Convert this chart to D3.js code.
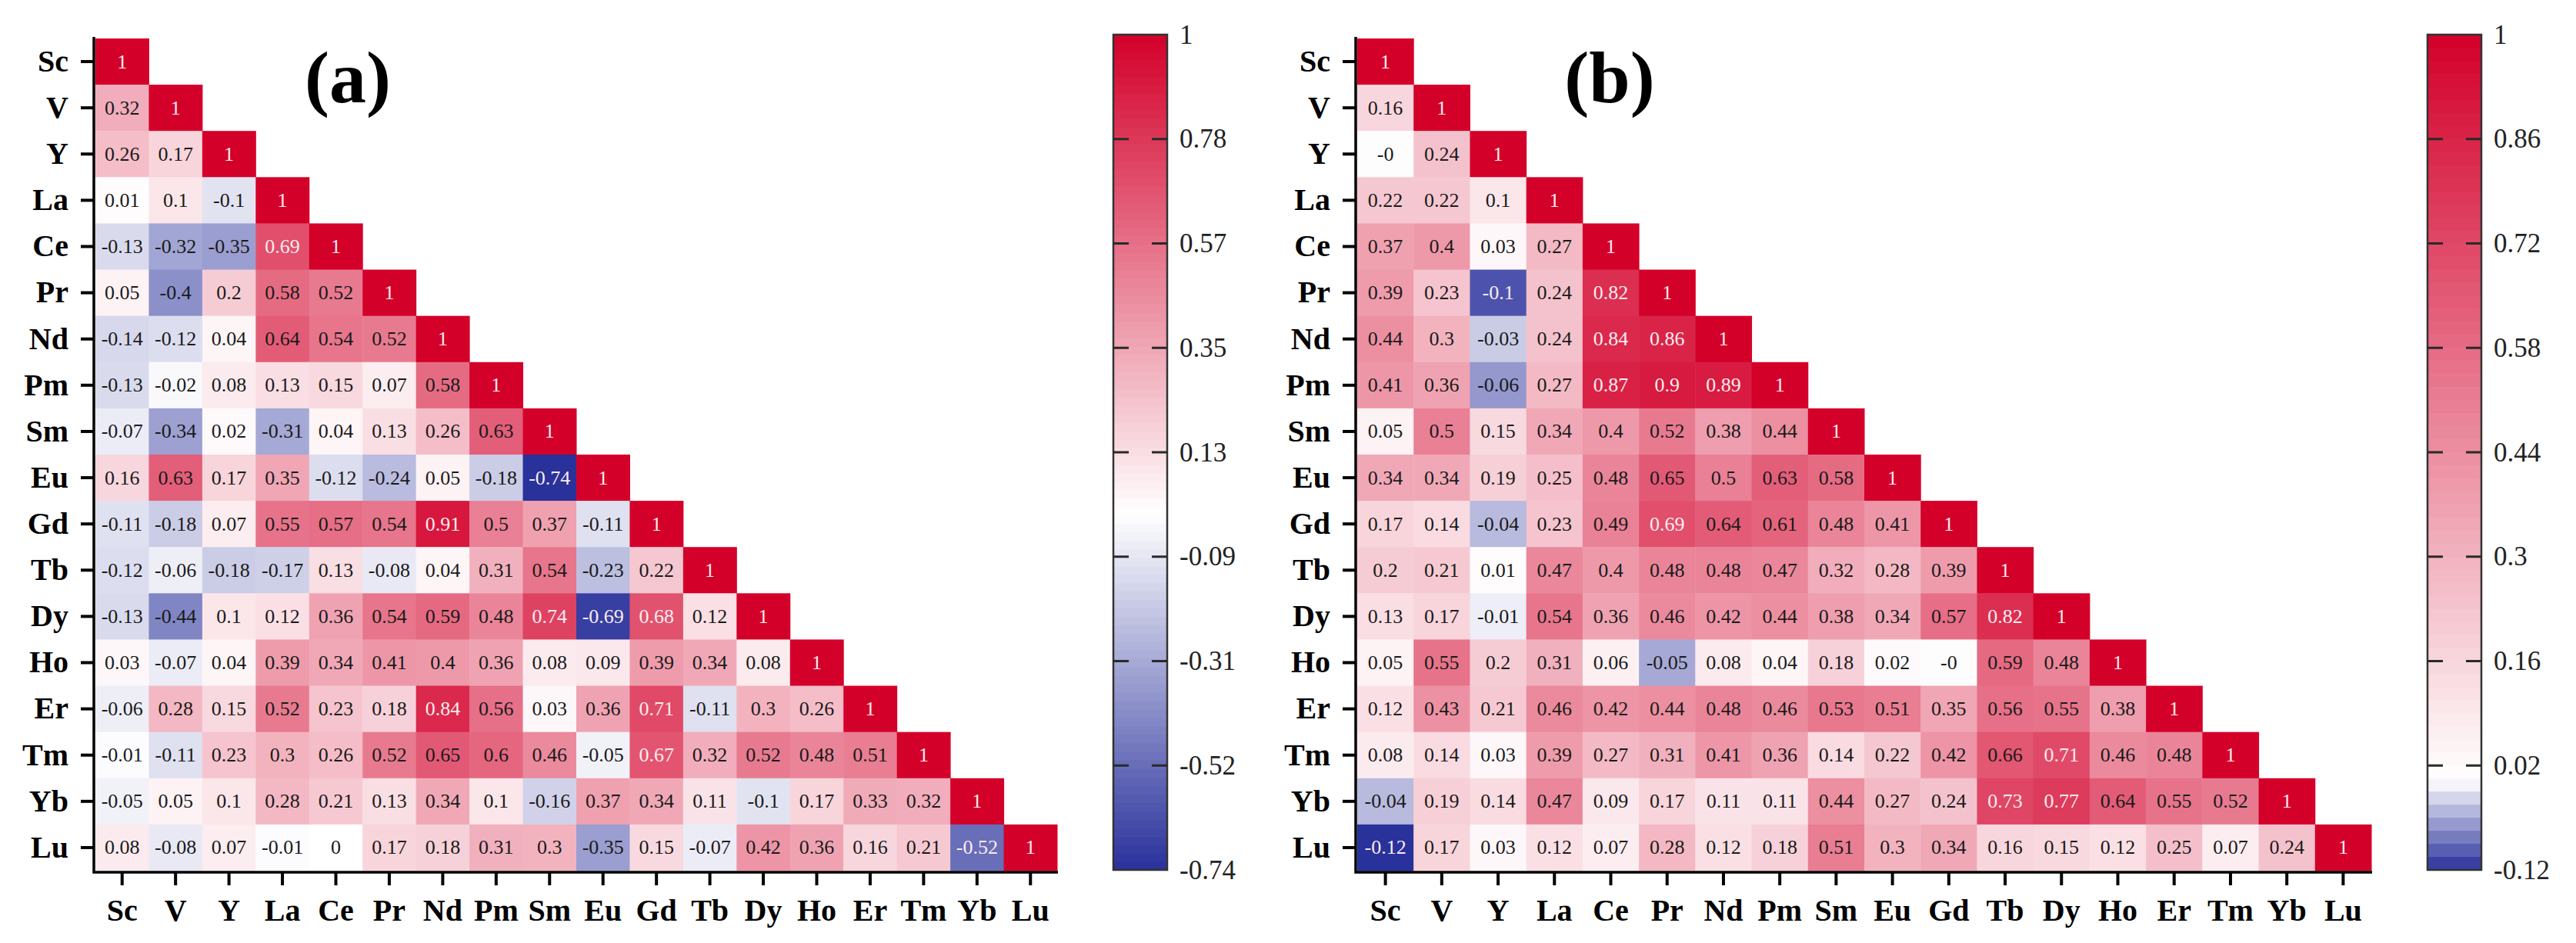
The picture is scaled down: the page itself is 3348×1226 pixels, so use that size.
<!DOCTYPE html>
<html>
<head>
<meta charset="utf-8">
<script src="https://cdn.jsdelivr.net/npm/d3@7"></script>
<style>
  body { margin: 0; background: #fff; }
  svg { display: block; }
</style>
</head>
<body>
<script>
// element names (rows and columns of both matrices)
const elements = ["Sc","V","Y","La","Ce","Pr","Nd","Pm","Sm","Eu","Gd","Tb","Dy","Ho","Er","Tm","Yb","Lu"];

// lower triangle of correlation matrix (a)
const corrA = [
  [1],
  [0.32, 1],
  [0.26, 0.17, 1],
  [0.01, 0.1, -0.1, 1],
  [-0.13, -0.32, -0.35, 0.69, 1],
  [0.05, -0.4, 0.2, 0.58, 0.52, 1],
  [-0.14, -0.12, 0.04, 0.64, 0.54, 0.52, 1],
  [-0.13, -0.02, 0.08, 0.13, 0.15, 0.07, 0.58, 1],
  [-0.07, -0.34, 0.02, -0.31, 0.04, 0.13, 0.26, 0.63, 1],
  [0.16, 0.63, 0.17, 0.35, -0.12, -0.24, 0.05, -0.18, -0.74, 1],
  [-0.11, -0.18, 0.07, 0.55, 0.57, 0.54, 0.91, 0.5, 0.37, -0.11, 1],
  [-0.12, -0.06, -0.18, -0.17, 0.13, -0.08, 0.04, 0.31, 0.54, -0.23, 0.22, 1],
  [-0.13, -0.44, 0.1, 0.12, 0.36, 0.54, 0.59, 0.48, 0.74, -0.69, 0.68, 0.12, 1],
  [0.03, -0.07, 0.04, 0.39, 0.34, 0.41, 0.4, 0.36, 0.08, 0.09, 0.39, 0.34, 0.08, 1],
  [-0.06, 0.28, 0.15, 0.52, 0.23, 0.18, 0.84, 0.56, 0.03, 0.36, 0.71, -0.11, 0.3, 0.26, 1],
  [-0.01, -0.11, 0.23, 0.3, 0.26, 0.52, 0.65, 0.6, 0.46, -0.05, 0.67, 0.32, 0.52, 0.48, 0.51, 1],
  [-0.05, 0.05, 0.1, 0.28, 0.21, 0.13, 0.34, 0.1, -0.16, 0.37, 0.34, 0.11, -0.1, 0.17, 0.33, 0.32, 1],
  [0.08, -0.08, 0.07, -0.01, 0, 0.17, 0.18, 0.31, 0.3, -0.35, 0.15, -0.07, 0.42, 0.36, 0.16, 0.21, -0.52, 1]
];

// lower triangle of correlation matrix (b)  (-0.001 prints as "-0")
const corrB = [
  [1],
  [0.16, 1],
  [-0.001, 0.24, 1],
  [0.22, 0.22, 0.1, 1],
  [0.37, 0.4, 0.03, 0.27, 1],
  [0.39, 0.23, -0.1, 0.24, 0.82, 1],
  [0.44, 0.3, -0.03, 0.24, 0.84, 0.86, 1],
  [0.41, 0.36, -0.06, 0.27, 0.87, 0.9, 0.89, 1],
  [0.05, 0.5, 0.15, 0.34, 0.4, 0.52, 0.38, 0.44, 1],
  [0.34, 0.34, 0.19, 0.25, 0.48, 0.65, 0.5, 0.63, 0.58, 1],
  [0.17, 0.14, -0.04, 0.23, 0.49, 0.69, 0.64, 0.61, 0.48, 0.41, 1],
  [0.2, 0.21, 0.01, 0.47, 0.4, 0.48, 0.48, 0.47, 0.32, 0.28, 0.39, 1],
  [0.13, 0.17, -0.01, 0.54, 0.36, 0.46, 0.42, 0.44, 0.38, 0.34, 0.57, 0.82, 1],
  [0.05, 0.55, 0.2, 0.31, 0.06, -0.05, 0.08, 0.04, 0.18, 0.02, -0.001, 0.59, 0.48, 1],
  [0.12, 0.43, 0.21, 0.46, 0.42, 0.44, 0.48, 0.46, 0.53, 0.51, 0.35, 0.56, 0.55, 0.38, 1],
  [0.08, 0.14, 0.03, 0.39, 0.27, 0.31, 0.41, 0.36, 0.14, 0.22, 0.42, 0.66, 0.71, 0.46, 0.48, 1],
  [-0.04, 0.19, 0.14, 0.47, 0.09, 0.17, 0.11, 0.11, 0.44, 0.27, 0.24, 0.73, 0.77, 0.64, 0.55, 0.52, 1],
  [-0.12, 0.17, 0.03, 0.12, 0.07, 0.28, 0.12, 0.18, 0.51, 0.3, 0.34, 0.16, 0.15, 0.12, 0.25, 0.07, 0.24, 1]
];

// colour bar ranges and tick labels
const rangeA = [-0.74, 1];
const rangeB = [-0.12, 1];
const ticksA = ["1", "0.78", "0.57", "0.35", "0.13", "-0.09", "-0.31", "-0.52", "-0.74"];
const ticksB = ["1", "0.86", "0.72", "0.58", "0.44", "0.3", "0.16", "0.02", "-0.12"];

const W = 3348, H = 1226;
const serif = "'Times New Roman', 'Liberation Serif', serif";
const RED = "#d3002a", BLUE = "#29319b";

const svg = d3.select("body").append("svg")
    .attr("width", W)
    .attr("height", H)
    .attr("viewBox", [0, 0, W, H]);

function fmt(v) {
    return v.toFixed(2).replace(/\.?0+$/, "");
}

function drawPanel(p) {
    const color = d3.scaleLinear()
        .domain([p.range[0], 0, p.range[1]])
        .range([BLUE, "#ffffff", RED])
        .interpolate(d3.interpolateRgb);

    const x = d3.scaleBand().domain(elements).range([p.x0, p.x1]);
    const y = d3.scaleBand().domain(elements).range([p.y0, p.y1]);

    const cells = [];
    p.data.forEach((row, i) => row.forEach((v, j) => cells.push({r: elements[i], c: elements[j], v: v})));

    const g = svg.append("g");

    g.selectAll("rect.cell")
        .data(cells)
        .join("rect")
        .attr("class", "cell")
        .attr("x", d => x(d.c))
        .attr("y", d => y(d.r))
        .attr("width", x.bandwidth() + 0.5)
        .attr("height", y.bandwidth() + 0.5)
        .attr("fill", d => color(d.v));

    // text is white on the darkest cells
    const dark = d => (d.v >= 0 ? d.v / p.range[1] : d.v / p.range[0]) > 0.665;
    g.selectAll("text.val")
        .data(cells)
        .join("text")
        .attr("class", "val")
        .attr("x", d => x(d.c) + x.bandwidth() / 2)
        .attr("y", d => y(d.r) + y.bandwidth() / 2)
        .attr("text-anchor", "middle")
        .attr("dominant-baseline", "central")
        .style("font-family", serif)
        .style("font-size", "26px")
        .attr("fill", d => dark(d) ? "#fbecee" : "#1a1a1a")
        .text(d => fmt(d.v));

    // axes
    const ax = g.append("g")
        .attr("transform", `translate(0,${p.y1 + 2})`)
        .call(d3.axisBottom(x).tickSize(17).tickSizeOuter(0).tickPadding(18));
    const ay = g.append("g")
        .attr("transform", `translate(${p.x0 - 2},0)`)
        .call(d3.axisLeft(y).tickSize(17).tickSizeOuter(0).tickPadding(16));
    [ax, ay].forEach(a => {
        a.select(".domain").remove();
        a.selectAll(".tick line").attr("stroke", "#000").attr("stroke-width", 4);
        a.selectAll(".tick text")
            .attr("fill", "#000")
            .style("font-family", serif)
            .style("font-weight", "bold")
            .style("font-size", "40px");
    });
    g.append("path")
        .attr("d", `M${p.x0 - 2},${p.y0 - 2}V${p.y1 + 2}H${p.x1 + 1}`)
        .attr("fill", "none")
        .attr("stroke", "#000")
        .attr("stroke-width", 3.5);

    // panel letter
    g.append("text")
        .attr("x", p.x0 + 328)
        .attr("y", 133)
        .attr("text-anchor", "middle")
        .style("font-family", serif)
        .style("font-weight", "bold")
        .style("font-size", "96px")
        .text(p.letter);

    // colour bar
    const cb = d3.scaleLinear().domain([p.range[1], p.range[0]]).range([p.cbY0, p.cbY1]);
    const nBands = Math.round((p.range[1] - p.range[0]) / 0.0175);
    const step = (p.range[1] - p.range[0]) / nBands;
    const bands = d3.range(nBands).map(k => p.range[1] - k * step);
    g.selectAll("rect.band")
        .data(bands)
        .join("rect")
        .attr("class", "band")
        .attr("x", p.cbX)
        .attr("width", p.cbW)
        .attr("y", d => cb(d))
        .attr("height", d => cb(d - step) - cb(d) + 0.6)
        .attr("fill", d => color(d - step / 2));
    g.append("rect")
        .attr("x", p.cbX)
        .attr("y", p.cbY0)
        .attr("width", p.cbW)
        .attr("height", p.cbY1 - p.cbY0)
        .attr("fill", "none")
        .attr("stroke", "#333")
        .attr("stroke-width", 2.5);

    const tickVals = p.ticks.map((t, k) => p.range[1] - k * (p.range[1] - p.range[0]) / (p.ticks.length - 1));
    const inner = tickVals.slice(1, -1);
    g.selectAll("path.cbtick")
        .data(inner)
        .join("path")
        .attr("class", "cbtick")
        .attr("d", d => `M${p.cbX},${cb(d)}h20M${p.cbX + p.cbW},${cb(d)}h-20`)
        .attr("stroke", "#2a2a2a")
        .attr("stroke-width", 3);
    g.selectAll("text.cblab")
        .data(p.ticks)
        .join("text")
        .attr("class", "cblab")
        .attr("x", p.cbX + p.cbW + 16)
        .attr("y", (d, k) => cb(tickVals[k]))
        .attr("dominant-baseline", "central")
        .style("font-family", serif)
        .style("font-size", "35px")
        .attr("fill", "#222")
        .text(d => d);
}

drawPanel({data: corrA, range: rangeA, ticks: ticksA, letter: "(a)",
    x0: 124, x1: 1374, y0: 50, y1: 1132, cbX: 1447, cbW: 70, cbY0: 45, cbY1: 1131});
drawPanel({data: corrB, range: rangeB, ticks: ticksB, letter: "(b)",
    x0: 1764, x1: 3082, y0: 50, y1: 1132, cbX: 3155, cbW: 70, cbY0: 45, cbY1: 1131});
</script>
</body>
</html>
